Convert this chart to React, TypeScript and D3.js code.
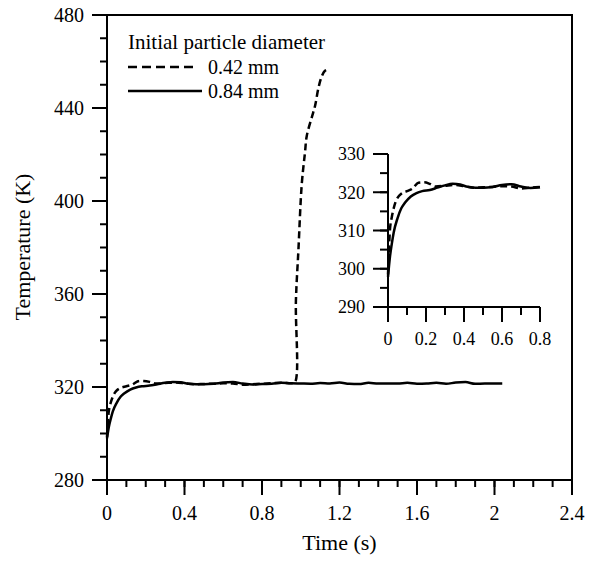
import React, { useEffect, useRef } from 'react';
import * as d3 from 'd3';

// 0.84 mm particle (solid line)
const timeLarge = [0, 0.01, 0.02, 0.03, 0.05, 0.07, 0.09, 0.12, 0.15, 0.18, 0.22, 0.26, 0.3, 0.34, 0.38, 0.42, 0.46, 0.5, 0.55, 0.6, 0.65, 0.7, 0.75, 0.8,
  0.85, 0.9, 0.95, 1.0, 1.05, 1.1, 1.15, 1.2, 1.25, 1.3, 1.35, 1.4, 1.45, 1.5, 1.55, 1.6, 1.65, 1.7, 1.75, 1.8, 1.85, 1.9, 1.95, 2.0, 2.04];
const tempLarge = [297.9, 303, 306.5, 309.5, 313.2, 315.8, 317.3, 318.9, 319.8, 320.3, 320.6, 321.2, 321.8, 322.2, 322.0, 321.4, 321.2, 321.2, 321.4, 321.9, 322.1, 321.5, 321.1, 321.3,
  321.4, 321.8, 321.6, 321.5, 321.4, 321.7, 321.5, 321.9, 321.4, 321.3, 321.8, 321.5, 321.5, 321.5, 321.8, 321.4, 321.5, 321.8, 321.4, 321.9, 322.1, 321.4, 321.5, 321.5, 321.5];

// 0.42 mm particle (dashed line)
const timeSmall = [0, 0.005, 0.01, 0.02, 0.03, 0.04, 0.05, 0.07, 0.1, 0.13, 0.16, 0.19, 0.22, 0.25, 0.3, 0.35, 0.4, 0.45, 0.5, 0.55, 0.6, 0.65, 0.7, 0.75, 0.8,
  0.85, 0.9, 0.95, 0.97, 0.975, 0.988, 1.005, 1.022, 1.031, 1.057, 1.074, 1.091, 1.108, 1.125, 1.151];
const tempSmall = [298.5, 305, 310, 313.5, 315.8, 317.5, 318.5, 319.6, 320.3, 321.0, 322.5, 322.6, 322.2, 321.5, 321.7, 321.9, 321.6, 321.2, 321.3, 321.4, 321.6, 321.5, 321.0, 321.2, 321.4,
  321.6, 321.8, 321.6, 322, 357, 379, 407, 421, 428, 436, 441, 448.5, 453.5, 456, 456.8];

const mainXTicks = [0, 0.4, 0.8, 1.2, 1.6, 2, 2.4];
const mainYTicks = [280, 320, 360, 400, 440, 480];
const insetXTicks = [0, 0.2, 0.4, 0.6, 0.8];
const insetYTicks = [290, 300, 310, 320, 330];
const legendLabels = ['0.42 mm', '0.84 mm'];

const FONT = '"Liberation Serif", "Times New Roman", serif';

const App = () => {
  const ref = useRef<SVGSVGElement>(null);

  useEffect(() => {
    document.body.style.margin = '0';
    const svg = d3.select(ref.current);
    svg.selectAll('*').remove();

    const small = timeSmall.map((t, i) => ({ t, v: tempSmall[i] }));
    const large = timeLarge.map((t, i) => ({ t, v: tempLarge[i] }));

    // main panel
    const x = d3.scaleLinear().domain([0, 2.4]).range([107, 572]);
    const y = d3.scaleLinear().domain([280, 480]).range([480, 15]);

    const drawAxes = (g, xs, ys, xMaj, yMaj, xMin, yMin, majLen, minLen, fs, labPad) => {
      const [x0] = xs.range();
      const [y0] = ys.range();
      g.append('line').attr('x1', x0).attr('x2', x0).attr('y1', ys.range()[0]).attr('y2', ys.range()[1])
        .attr('stroke', '#000').attr('stroke-width', 2);
      g.append('line').attr('x1', xs.range()[0]).attr('x2', xs.range()[1]).attr('y1', y0).attr('y2', y0)
        .attr('stroke', '#000').attr('stroke-width', 2);
      xMin.forEach(v => g.append('line').attr('x1', xs(v)).attr('x2', xs(v)).attr('y1', y0).attr('y2', y0 + minLen)
        .attr('stroke', '#000').attr('stroke-width', 2));
      yMin.forEach(v => g.append('line').attr('x1', x0).attr('x2', x0 - minLen).attr('y1', ys(v)).attr('y2', ys(v))
        .attr('stroke', '#000').attr('stroke-width', 2));
      xMaj.forEach(v => {
        g.append('line').attr('x1', xs(v)).attr('x2', xs(v)).attr('y1', y0).attr('y2', y0 + majLen)
          .attr('stroke', '#000').attr('stroke-width', 2);
        g.append('text').attr('x', xs(v)).attr('y', y0 + majLen + labPad[0]).attr('text-anchor', 'middle')
          .attr('font-family', FONT).attr('font-size', fs).text(String(v));
      });
      yMaj.forEach(v => {
        g.append('line').attr('x1', x0).attr('x2', x0 - majLen).attr('y1', ys(v)).attr('y2', ys(v))
          .attr('stroke', '#000').attr('stroke-width', 2);
        g.append('text').attr('x', x0 - majLen - labPad[1]).attr('y', ys(v)).attr('dy', '0.35em').attr('text-anchor', 'end')
          .attr('font-family', FONT).attr('font-size', fs).text(String(v));
      });
    };

    const main = svg.append('g');
    // frame top/right
    main.append('path').attr('d', `M${x(0)},${y(480)}H${x(2.4)}V${y(280)}`).attr('fill', 'none')
      .attr('stroke', '#000').attr('stroke-width', 2);
    drawAxes(main, x, y, mainXTicks, mainYTicks,
      d3.range(0, 2.41, 0.1).map(v => +v.toFixed(2)), d3.range(280, 481, 10),
      15, 7, 20, [25, 8]);

    main.append('text').attr('x', 339.5).attr('y', 550).attr('text-anchor', 'middle')
      .attr('font-family', FONT).attr('font-size', 22).text('Time (s)');
    main.append('text').attr('transform', 'translate(30,247) rotate(-90)').attr('text-anchor', 'middle')
      .attr('font-family', FONT).attr('font-size', 22).text('Temperature (K)');

    const line = d3.line<any>().x(d => x(d.t)).y(d => y(d.v)).curve(d3.curveMonotoneX);
    main.append('path').datum(large).attr('d', line).attr('fill', 'none').attr('stroke', '#000').attr('stroke-width', 2.5);
    main.append('path').datum(small).attr('d', d3.line<any>().x(d => x(d.t)).y(d => y(d.v)).curve(d3.curveCatmullRom))
      .attr('fill', 'none').attr('stroke', '#000').attr('stroke-width', 2.5).attr('stroke-dasharray', '7,4');

    // legend
    const lg = svg.append('g');
    lg.append('text').attr('x', 128).attr('y', 49).attr('font-family', FONT).attr('font-size', 21).text('Initial particle diameter');
    lg.append('line').attr('x1', 128).attr('x2', 196).attr('y1', 67).attr('y2', 67).attr('stroke', '#000')
      .attr('stroke-width', 2.5).attr('stroke-dasharray', '9,5');
    lg.append('line').attr('x1', 128).attr('x2', 202).attr('y1', 91).attr('y2', 91).attr('stroke', '#000').attr('stroke-width', 2.5);
    legendLabels.forEach((l, i) => lg.append('text').attr('x', 208).attr('y', 74 + i * 24)
      .attr('font-family', FONT).attr('font-size', 20).text(l));

    // inset
    const xi = d3.scaleLinear().domain([0, 0.8]).range([388, 540]);
    const yi = d3.scaleLinear().domain([290, 330]).range([307, 154]);
    const inset = svg.append('g');
    drawAxes(inset, xi, yi, insetXTicks, insetYTicks,
      d3.range(0, 0.81, 0.1).map(v => +v.toFixed(2)), d3.range(290, 331, 5),
      15, 8, 18, [23, 8]);
    const cut = (arr) => arr.filter(d => d.t <= 0.8);
    inset.append('path').datum(cut(large)).attr('d', d3.line<any>().x(d => xi(d.t)).y(d => yi(d.v)).curve(d3.curveMonotoneX))
      .attr('fill', 'none').attr('stroke', '#000').attr('stroke-width', 2.5);
    inset.append('path').datum(cut(small)).attr('d', d3.line<any>().x(d => xi(d.t)).y(d => yi(d.v)).curve(d3.curveMonotoneX))
      .attr('fill', 'none').attr('stroke', '#000').attr('stroke-width', 2.5).attr('stroke-dasharray', '7,4');
  }, []);

  return <svg ref={ref} width={593} height={561} style={{ display: 'block', background: '#fff' }}></svg>;
};

export default App;
